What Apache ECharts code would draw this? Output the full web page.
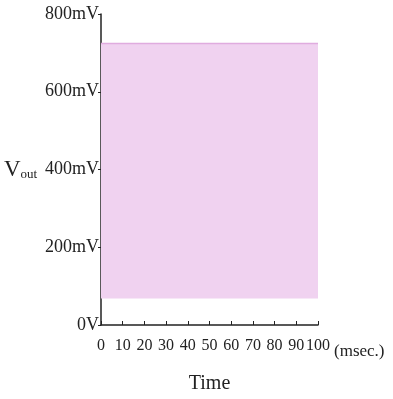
<!DOCTYPE html>
<html><head><meta charset="utf-8">
<script src="https://cdn.jsdelivr.net/npm/echarts@6/dist/echarts.min.js"></script>
<style>html,body{margin:0;padding:0;background:#fff}#c{width:393px;height:399px}</style>
</head><body><div id="c"></div>
<script>
// Data
const timeMs = [0, 100];          // msec, start/end of the trace
const vLow = [68, 68];            // mV, lower envelope of the fast oscillation
const vHigh = [724, 724];         // mV, upper envelope
const xTicks = [0,10,20,30,40,50,60,70,80,90,100];
const yTicks = [0,200,400,600,800];

const font = '"Liberation Serif", "DejaVu Serif", serif';
const chart = echarts.init(document.getElementById('c'));
chart.setOption({
  animation:false,
  grid:{left:101,right:75,top:14,bottom:69},
  xAxis:{type:'value',min:0,max:100,interval:10,
    axisLine:{lineStyle:{color:'#222',width:1.5}},
    axisTick:{inside:true,length:4,lineStyle:{color:'#222'}},
    axisLabel:{color:'#222',fontFamily:font,fontSize:16,margin:13,
      showMinLabel:true,showMaxLabel:true,hideOverlap:false},
    splitLine:{show:false},
    name:'Time',nameLocation:'middle',nameGap:49,
    nameTextStyle:{color:'#222',fontFamily:font,fontSize:20}},
  yAxis:{type:'value',min:0,max:800,interval:200,
    axisLine:{show:true,lineStyle:{color:'#222',width:1.5}},
    axisTick:{show:true,length:3,lineStyle:{color:'#222'}},
    axisLabel:{color:'#222',fontFamily:font,fontSize:18,margin:2,
      formatter:v=>v===0?'0V':v+'mV'},
    splitLine:{show:false}},
  series:[
    {type:'custom',
     data:timeMs.map((t,i)=>[t,vLow[i],vHigh[i]]),
     renderItem:function(params,api){
       if(params.dataIndex!==0) return null;
       const pts=[];
       for(let i=0;i<timeMs.length;i++) pts.push(api.coord([timeMs[i],vHigh[i]]));
       for(let i=timeMs.length-1;i>=0;i--) pts.push(api.coord([timeMs[i],vLow[i]]));
       const top=[];
       for(let i=0;i<timeMs.length;i++) top.push(api.coord([timeMs[i],vHigh[i]]));
       return {type:'group',children:[
         {type:'polygon',shape:{points:pts},style:{fill:'#f0d2f0',stroke:null}},
         {type:'polyline',shape:{points:top},style:{stroke:'#e0acdf',lineWidth:1.5,fill:null}}
       ]};
     }}
  ],
  graphic:[
    {type:'text',left:334,top:343,style:{text:'(msec.)',font:'17px '+font,fill:'#222'}},
    {type:'text',left:4,top:158,style:{
      text:'{v|V}{s|out}',
      rich:{v:{fontFamily:font,fontSize:23,fill:'#222',verticalAlign:'bottom'},
            s:{fontFamily:font,fontSize:13,fill:'#222',padding:[12,0,0,0]}}}}
  ]
});
</script></body></html>
